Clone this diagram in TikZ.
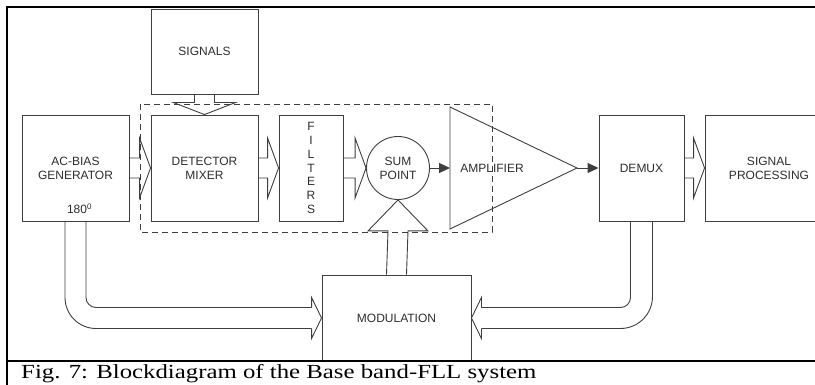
\documentclass[tikz,border=0pt]{standalone}
\usepackage{fontspec}
\setmainfont{Liberation Sans}
\newfontfamily\capfont{Liberation Serif}
\usetikzlibrary{calc,arrows.meta}
\definecolor{lncol}{RGB}{62,62,62}
\definecolor{txcol}{RGB}{45,45,45}

% hollow horizontal block arrow: from, to
\newcommand{\harrow}[2]{%
  \draw[blk] ($(#1)+(0,-10)$) -- ($(#2)+(-11,-10)$) -- ($(#2)+(-11,-30)$) -- (#2)
    -- ($(#2)+(-11,30)$) -- ($(#2)+(-11,10)$) -- ($(#1)+(0,10)$);}
% hollow vertical block arrow: from, to, head length (signed), head half width
\newcommand{\varrow}[4]{%
  \draw[blk] ($(#1)+(-10,0)$) -- ($(#2)+(-10,{-(#3)})$) -- ($(#2)+({-(#4)},{-(#3)})$) -- (#2)
    -- ($(#2)+(#4,{-(#3)})$) -- ($(#2)+(10,{-(#3)})$) -- ($(#1)+(10,0)$);}

\begin{document}
\begin{tikzpicture}[x=1pt,y=-1pt] % pixel coordinates, y goes down
\tikzstyle{blk} = [draw=lncol, line width=0.9pt, line join=miter] % block arrow style
\tikzstyle{box} = [draw=lncol, line width=0.9pt, text=txcol, align=center, inner sep=0pt,
  font=\fontsize{12}{14}\selectfont] % block style
\tikzstyle{frame} = [draw=black, line width=2pt]
\tikzstyle{sig} = [draw=lncol, line width=0.9pt, -{Triangle[length=11pt,width=10pt]}]

\useasboundingbox (0,0) rectangle (815,385);

% blocks
\node[box, minimum width=107pt, minimum height=106pt] (acb) at (75.5,168) {AC-BIAS\\GENERATOR};
\node[box, minimum width=107pt, minimum height=85pt] (sgn) at (204.5,51.5) {SIGNALS};
\node[box, minimum width=107pt, minimum height=106pt] (det) at (204.5,168) {DETECTOR\\MIXER};
\node[box, minimum width=64pt, minimum height=106pt, font=\fontsize{12}{13.7}\selectfont]
  (fil) at (311,168) {F\\I\\L\\T\\E\\R\\S};
\node[box, circle, minimum size=63pt] (sum) at (398,168) {SUM\\POINT};
\node[box, minimum width=85pt, minimum height=106pt] (dmx) at (641.5,168) {DEMUX};
\node[box, minimum width=128pt, minimum height=106pt] (spr) at (769,168) {SIGNAL\\PROCESSING};
\node[box, minimum width=149pt, minimum height=86pt] (mod) at (396.5,318) {MODULATION};
\node[text=txcol, font=\fontsize{12}{14}\selectfont] (deg) at ([xshift=4pt,yshift=13pt]acb.south) {180\textsuperscript{0}};

% amplifier
\coordinate (ampa) at (450,107);
\coordinate (ampb) at (450,229);
\coordinate (amp) at (577,168);
\draw[blk] (ampa) -- (amp) -- (ampb) -- cycle;
\node[text=txcol, font=\fontsize{12}{14}\selectfont] (ampl) at (492,168) {AMPLIFIER};

% dashed frame round the front end
\draw[draw=lncol, line width=0.9pt, dash pattern=on 6pt off 4pt] (140,104) rectangle (492,232);

% block arrows
\harrow{acb.east}{det.west}
\harrow{det.east}{fil.west}
\harrow{fil.east}{sum.west}
\harrow{dmx.east}{spr.west}
\varrow{sgn.south}{det.north}{12}{31}
\varrow{mod.north}{sum.south}{-31}{30}

% signal path
\draw[sig] (sum.east) -- (ampa |- sum.east);
\draw[sig] (amp) -- (dmx.west);

% feedback from the bias generator
\draw[blk] ($(acb.south)+(10.5,0)$) [rounded corners=10pt] |- ($(mod.west)+(-10,-10.5)$);
\draw[blk] ($(mod.west)+(-10,-10.5)$) -- ++(0,-10) -- (mod.west) -- ++(-10,20.5) -- ++(0,-10);
\draw[blk] ($(mod.west)+(-10,10.5)$) [rounded corners=31pt] -| ($(acb.south)+(-10.5,0)$);
% feedback from the demux
\draw[blk] ($(dmx.south)+(-11,0)$) [rounded corners=10pt] |- ($(mod.east)+(10,-10.5)$);
\draw[blk] ($(mod.east)+(10,-10.5)$) -- ++(0,-10) -- (mod.east) -- ++(10,20.5) -- ++(0,-10);
\draw[blk] ($(mod.east)+(10,10.5)$) [rounded corners=32pt] -| ($(dmx.south)+(11,0)$);

% frame and caption
\draw[frame] (7,385) -- (7,7) -- (815,7);
\draw[frame] (7,361) -- (815,361);
\node[anchor=west, inner sep=0pt, xscale=1.24, font=\capfont\fontsize{20}{23}\selectfont] (cap) at (21,374)
  {Fig. 7: Blockdiagram of the Base band-FLL system};
\end{tikzpicture}
\end{document}
